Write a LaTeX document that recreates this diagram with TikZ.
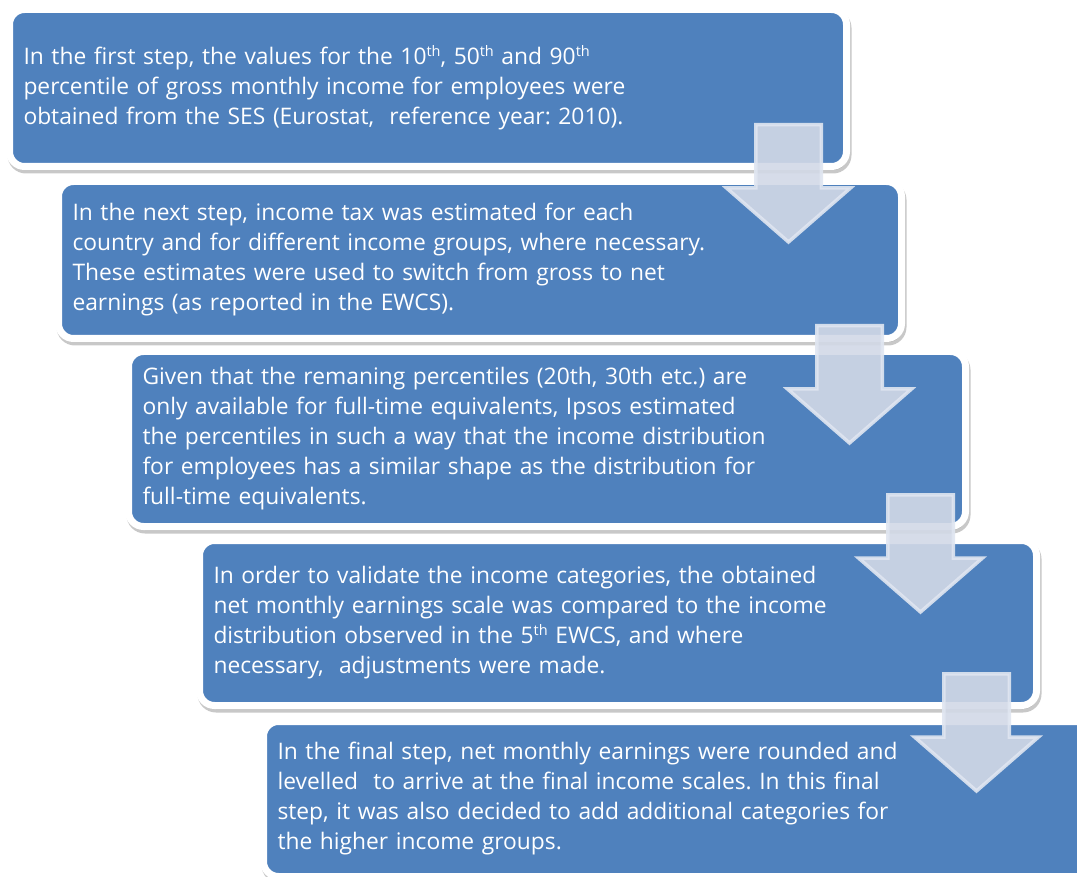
\documentclass[tikz,border=0pt]{standalone}
\usepackage{fontspec}
\setmainfont{Open Sans}
\usetikzlibrary{shadows}
\definecolor{boxblue}{RGB}{79,129,189}
\definecolor{arrowfill}{RGB}{210,217,231}
\definecolor{arrowedge}{RGB}{224,230,241}
\newcommand\supx[1]{\raisebox{8pt}{\fontsize{14.5}{14.5}\selectfont #1}}
\begin{document}
\begin{tikzpicture}[x=1pt,y=-1pt,
  stepbox/.style={fill=boxblue, draw=white, line width=7pt, rounded corners=15pt,
    text=white, align=left, inner xsep=14pt, inner ysep=0pt,
    font=\fontsize{22.8}{30}\selectfont\frenchspacing,
    drop shadow={shadow xshift=1.5pt, shadow yshift=-3.5pt, opacity=0.3,
      fill=black!70, draw=black!70, line width=7pt}},
  arrowshape/.style={fill=arrowfill, fill opacity=0.9, draw=arrowedge, draw opacity=0.9,
    line width=3.5pt, line join=miter},
  blockarrow/.pic={\path[arrowshape] (-32.75,1.75) -- (32.75,1.75) -- (32.75,65) -- (62,65)
     -- (0,119) -- (-62,65) -- (-32.75,65) -- cycle;}
]
\useasboundingbox (0,0) rectangle (1077,877);
\clip (0,0) rectangle (1077,877);
\fill[white] (0,0) rectangle (1077,877);

\node[stepbox, minimum width=837pt, minimum height=157pt, text width=809pt] (b1) at (428,88)
 {In the first step, the values for the 10\supx{th}, 50\supx{th} and 90\supx{th}\\
  percentile of gross monthly income for employees were\\
  obtained from the SES (Eurostat, \ reference year: 2010).};

\node[stepbox, minimum width=843pt, minimum height=157pt, text width=815pt] (b2) at (480,260)
 {In the next step, income tax was estimated for each\\
  country and for different income groups, where necessary.\\
  These estimates were used to switch from gross to net\\
  earnings (as reported in the EWCS).};

\node[stepbox, minimum width=837pt, minimum height=175pt, text width=809pt] (b3) at (547,439)
 {Given that the remaning percentiles (20th, 30th etc.) are\\
  only available for full-time equivalents, Ipsos estimated\\
  the percentiles in such a way that the income distribution\\
  for employees has a similar shape as the distribution for\\
  full-time equivalents.};

\node[stepbox, minimum width=837pt, minimum height=165pt, text width=809pt] (b4) at (618,623)
 {In order to validate the income categories, the obtained\\
  net monthly earnings scale was compared to the income\\
  distribution observed in the 5\supx{th} EWCS, and where\\
  necessary, \ adjustments were made.};

\node[stepbox, minimum width=837pt, minimum height=155pt, text width=809pt] (b5) at (682,799)
 {In the final step, net monthly earnings were rounded and\\
  levelled \ to arrive at the final income scales. In this final\\
  step, it was also decided to add additional categories for\\
  the higher income groups.};

\pic at (788.5,123) {blockarrow};
\pic at (849.5,324) {blockarrow};
\pic at (920.5,493) {blockarrow};
\pic at (976.5,672) {blockarrow};
\end{tikzpicture}
\end{document}
